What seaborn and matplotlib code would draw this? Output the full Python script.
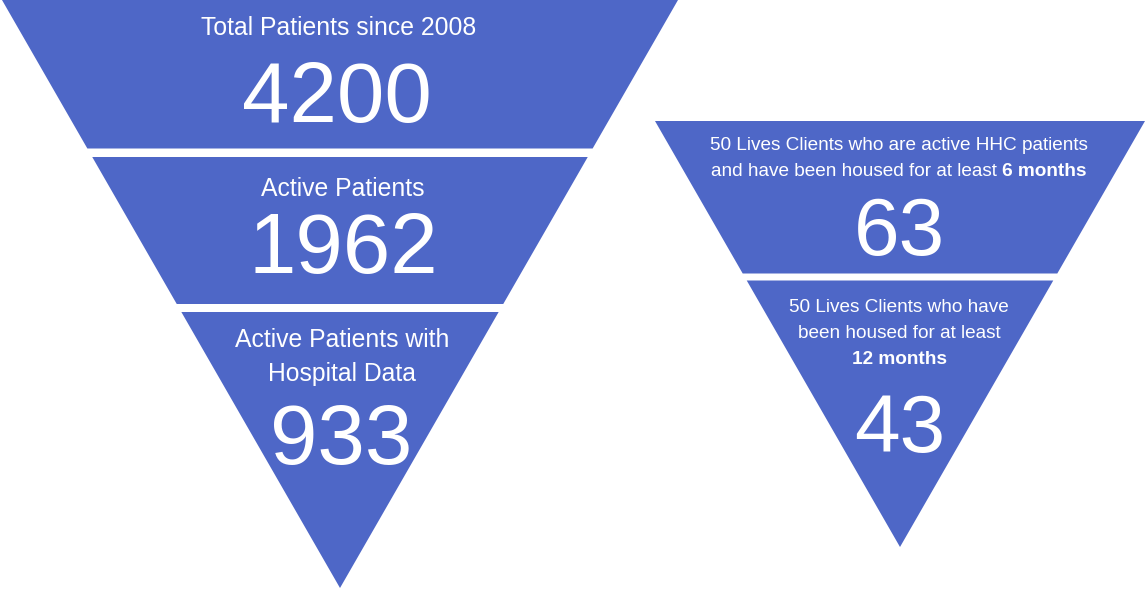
import matplotlib
matplotlib.use("Agg")
import matplotlib.pyplot as plt
import seaborn as sns

# ---- data ----
left_labels = [["Total Patients since 2008"], ["Active Patients"], ["Active Patients with", "Hospital Data"]]
left_values = ["4200", "1962", "933"]
right_labels = [
    [[("50 Lives Clients who are active HHC patients", "normal")],
     [("and have been housed for at least ", "normal"), ("6 months", "bold")]],
    [[("50 Lives Clients who have", "normal")],
     [("been housed for at least", "normal")],
     [("12 months", "bold")]],
]
right_values = ["63", "43"]

# ---- layout ----
W, H = 1146, 591
COLOR = "#4e67c7"
FONT = "Liberation Sans"

sns.set_theme(style="white")
plt.rcParams["font.family"] = [FONT, "DejaVu Sans"]

fig = plt.figure(figsize=(W / 100, H / 100), dpi=100)
ax = fig.add_axes([0, 0, 1, 1])
ax.set_xlim(0, W)
ax.set_ylim(H, 0)
ax.axis("off")


def funnel(cx, top, half_w, apex, cuts):
    """cuts: list of (y_start, y_end) for each segment"""
    def hw(y):
        return half_w * (apex - y) / (apex - top)
    for y0, y1 in cuts:
        xs = [cx - hw(y0), cx + hw(y0), cx + hw(y1), cx - hw(y1)]
        ys = [y0, y0, y1, y1]
        ax.fill(xs, ys, color=COLOR, lw=0)


funnel(340, 0, 338, 588, [(0, 148.5), (157, 304), (312, 588)])
funnel(900, 121, 245, 547, [(121, 273.5), (280.5, 547)])

renderer = fig.canvas.get_renderer()


def mixed_line(cx, y, runs, size):
    texts = []
    for s, w in runs:
        t = ax.text(0, y, s, fontsize=size, fontweight=w, color="white",
                    ha="left", va="baseline")
        texts.append(t)
    widths = [t.get_window_extent(renderer).width for t in texts]
    total = sum(widths)
    x = cx - total / 2
    for t, wd in zip(texts, widths):
        t.set_x(x)
        x += wd


# left labels
seg_cx = [339, 343, 342]
label_baselines = [[35], [196], [347, 381]]
value_baselines = [122, 273, 464]
for lines, ys, cx in zip(left_labels, label_baselines, seg_cx):
    for s, y in zip(lines, ys):
        ax.text(cx, y, s, fontsize=17.8, color="white", ha="center", va="baseline")
for v, y, cx in zip(left_values, value_baselines, [337, 343, 341]):
    ax.text(cx, y, v, fontsize=61.5, color="white", ha="center", va="baseline")

# right labels
r_label_baselines = [[150, 176], [312, 338, 364]]
r_value_baselines = [255, 452]
for lines, ys in zip(right_labels, r_label_baselines):
    for runs, y in zip(lines, ys):
        mixed_line(899, y, runs, 13.7)
for v, y in zip(right_values, r_value_baselines):
    ax.text(899.5, y, v, fontsize=59, color="white", ha="center", va="baseline")

fig.savefig("out.png", dpi=100, facecolor="white")
